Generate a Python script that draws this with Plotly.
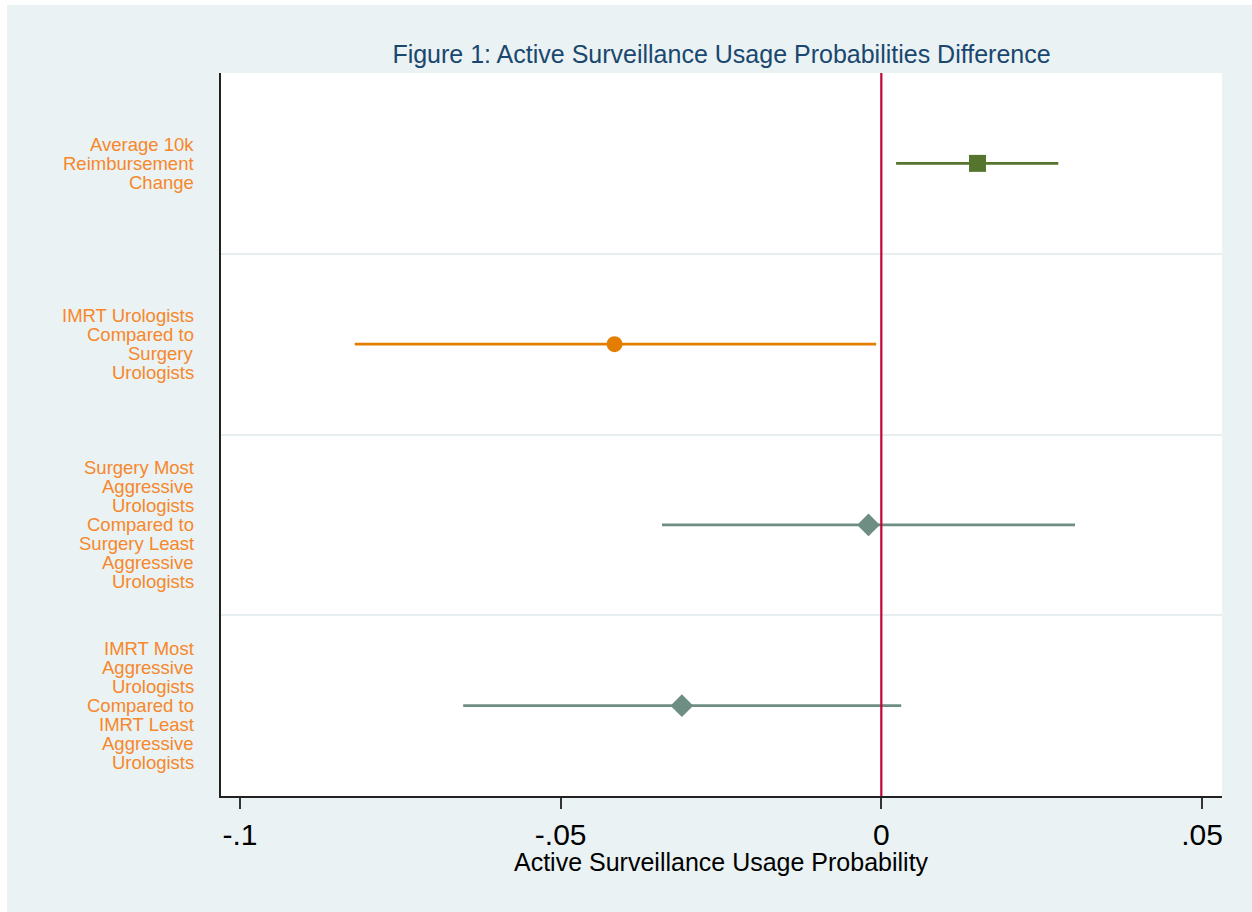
import plotly.graph_objects as go

# Comparison labels (one list of lines per row), point estimates and 95% CI bounds
labels = [
    ["Average 10k", "Reimbursement", "Change"],
    ["IMRT Urologists", "Compared to", "Surgery", "Urologists"],
    ["Surgery Most", "Aggressive", "Urologists", "Compared to", "Surgery Least", "Aggressive", "Urologists"],
    ["IMRT Most", "Aggressive", "Urologists", "Compared to", "IMRT Least", "Aggressive", "Urologists"],
]
estimate = [0.0150, -0.0416, -0.0020, -0.0311]
ci_low = [0.0023, -0.0821, -0.0342, -0.0652]
ci_high = [0.0276, -0.0008, 0.0302, 0.0031]

tick_vals = [-0.1, -0.05, 0, 0.05]
tick_text = ["-.1", "-.05", "0", ".05"]

colors = ["#55752f", "#e37e00", "#6e8e84", "#6e8e84"]
symbols = ["square", "circle", "diamond", "diamond"]
sizes = [17, 16, 17.5, 17.5]

BG = "#eaf2f3"
FONT = "Arial, Liberation Sans, sans-serif"
PLOT_H = 912 - 73 - 116

fig = go.Figure()

for i in range(len(estimate)):
    fig.add_trace(go.Scatter(
        x=[ci_low[i], ci_high[i]], y=[i, i], mode="lines",
        line=dict(color=colors[i], width=2.6), hoverinfo="skip", showlegend=False,
    ))
    fig.add_trace(go.Scatter(
        x=[estimate[i]], y=[i], mode="markers",
        marker=dict(symbol=symbols[i], size=sizes[i], color=colors[i], line=dict(width=0)),
        showlegend=False,
    ))

# Multi-line row labels, tight line spacing
LINE_H = 19
annotations = []
for i, lines in enumerate(labels):
    n = len(lines)
    for j, txt in enumerate(lines):
        annotations.append(dict(
            text=txt, xref="paper", yref="y", x=0, y=i,
            xanchor="right", yanchor="middle", xshift=-25,
            yshift=-(j - (n - 1) / 2) * LINE_H, showarrow=False,
            font=dict(family=FONT, size=18.5, color="#f7872a"),
        ))

annotations.append(dict(
    text="Active Surveillance Usage Probability", xref="paper", yref="paper",
    x=0.5, y=(796 - 862) / PLOT_H, xanchor="center", yanchor="middle", showarrow=False,
    font=dict(family=FONT, size=25, color="#000000"),
))

shapes = [
    # zero reference line
    dict(type="line", xref="x", yref="paper", x0=0, x1=0, y0=0, y1=1,
         line=dict(color="#c10534", width=2.2), layer="above"),
    # thin white margins around the graph region
    dict(type="rect", xref="paper", yref="paper", x0=-0.3, x1=(7 - 221) / 1001,
         y0=-0.3, y1=1.3, fillcolor="white", line=dict(width=0), layer="above"),
    dict(type="rect", xref="paper", yref="paper", x0=-0.3, x1=1.3,
         y0=(796 - 5) / PLOT_H, y1=1.3, fillcolor="white", line=dict(width=0), layer="above"),
]

fig.update_layout(
    width=1252, height=912,
    margin=dict(l=221, r=30, t=73, b=116),
    paper_bgcolor=BG, plot_bgcolor="white",
    title=dict(text="Figure 1: Active Surveillance Usage Probabilities Difference",
               x=0.5, xref="paper", y=1 - 54 / 912, yref="container",
               xanchor="center", yanchor="middle",
               font=dict(family=FONT, size=25, color="#1a476f")),
    xaxis=dict(range=[-0.10296, 0.05312], tickvals=tick_vals, ticktext=tick_text,
               ticks="outside", ticklen=11, tickwidth=2, tickcolor="#333333",
               showline=True, linecolor="#222222", linewidth=2,
               showgrid=False, zeroline=False,
               tickfont=dict(family=FONT, size=30, color="#000000")),
    yaxis=dict(range=[3.5, -0.5], tickvals=[0.5, 1.5, 2.5], showticklabels=False,
               ticks="", showgrid=True, gridcolor="#e6eef0", gridwidth=2,
               showline=True, linecolor="#222222", linewidth=2, zeroline=False),
    annotations=annotations,
    shapes=shapes,
    font=dict(family=FONT),
)

fig.write_html("out.html")
